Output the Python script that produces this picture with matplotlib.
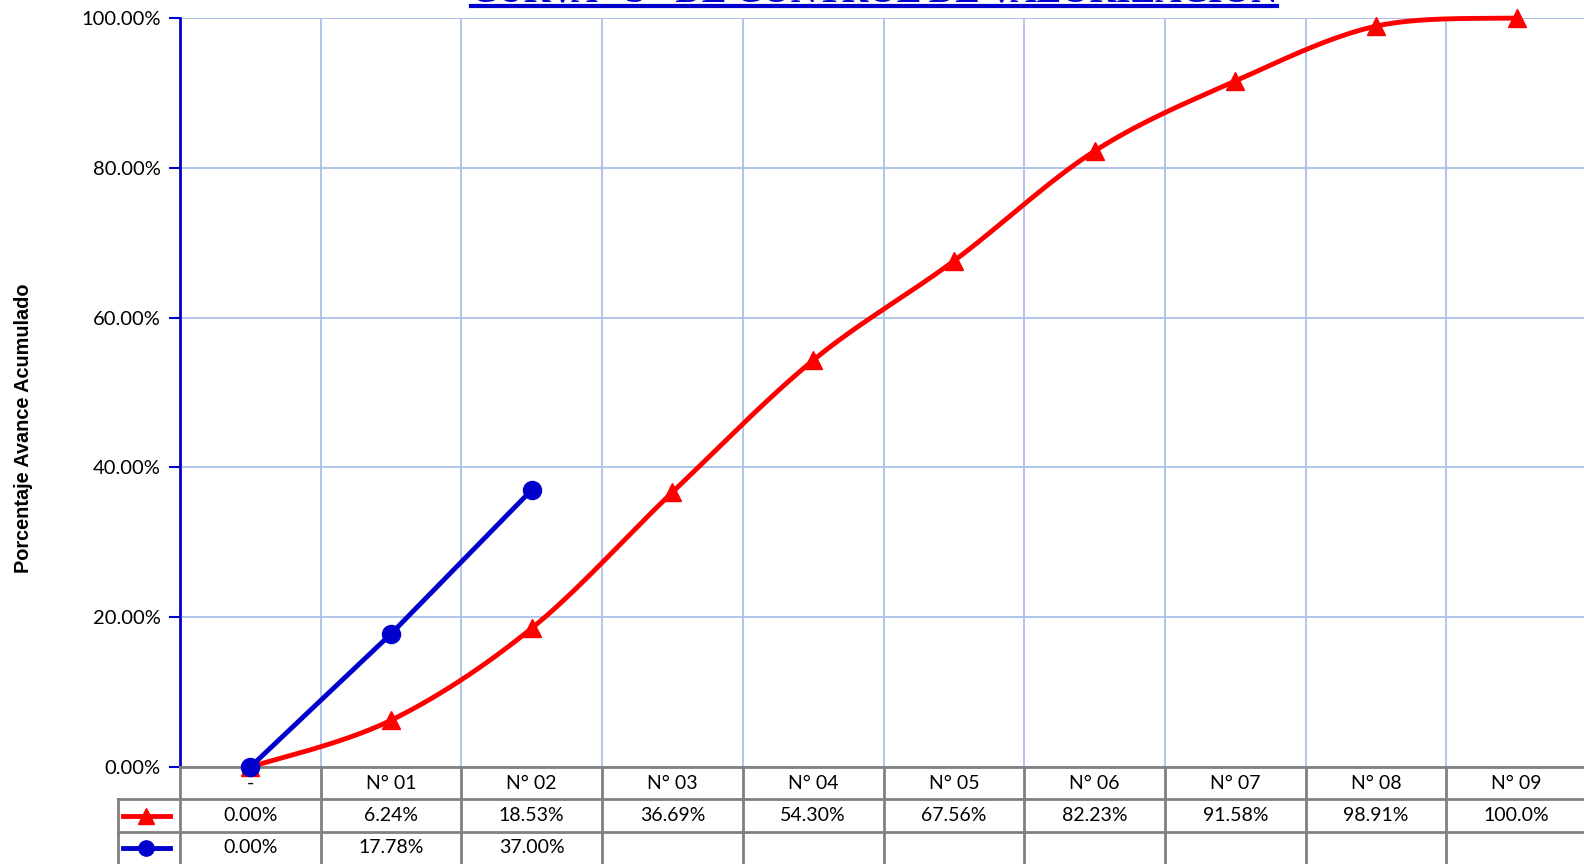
import matplotlib
matplotlib.use("Agg")
import matplotlib.pyplot as plt
import numpy as np

# datos de la curva S
periodos = ["-", "N° 01", "N° 02", "N° 03", "N° 04", "N° 05", "N° 06", "N° 07", "N° 08", "N° 09"]
programado = [0.00, 6.24, 18.53, 36.69, 54.30, 67.56, 82.23, 91.58, 98.91, 100.0]
ejecutado = [0.00, 17.78, 37.00]
yticks = [0, 20, 40, 60, 80, 100]
titulo = 'CURVA "S" DE CONTROL DE VALORIZACION'

W, H = 1584, 864
RED = "#ff0000"
BLUE = "#0000cc"
GRID = "#a9c0e8"
TGRAY = "#808080"
plt.rcParams["font.family"] = ["Lato", "DejaVu Sans"]


def suavizar(x, y, n=30):
    # curva suavizada tipo Excel (Catmull-Rom / Bezier)
    x = np.asarray(x, float)
    y = np.asarray(y, float)
    px = np.concatenate([[x[0]], x, [x[-1]]])
    py = np.concatenate([[y[0]], y, [y[-1]]])
    xs, ys = [], []
    t = np.linspace(0, 1, n)
    for i in range(1, len(px) - 2):
        p0 = np.array([px[i], py[i]])
        p3 = np.array([px[i + 1], py[i + 1]])
        c1 = p0 + (np.array([px[i + 1], py[i + 1]]) - np.array([px[i - 1], py[i - 1]])) / 6
        c2 = p3 - (np.array([px[i + 2], py[i + 2]]) - np.array([px[i], py[i]])) / 6
        b = ((1 - t) ** 3)[:, None] * p0 + (3 * (1 - t) ** 2 * t)[:, None] * c1 \
            + (3 * (1 - t) * t ** 2)[:, None] * c2 + (t ** 3)[:, None] * p3
        xs.extend(b[:, 0])
        ys.extend(b[:, 1])
    return np.array(xs), np.array(ys)


fig = plt.figure(figsize=(W / 100, H / 100), dpi=100)

left, right, top, bottom = 180, 1587, 18, 767
colw = (right - left) / len(periodos)
ax = fig.add_axes([left / W, 1 - bottom / H, (right - left) / W, (bottom - top) / H])
n = len(periodos)
ax.set_xlim(-0.5, n - 0.5)
ax.set_ylim(0, 100)

ax.set_xticks(np.arange(-0.5, n, 1.0))
ax.set_xticklabels([])
ax.tick_params(axis="x", length=0)
ax.set_yticks(yticks)
ax.set_yticklabels([f"{v:.2f}%" for v in yticks], fontsize=14.5)
ax.tick_params(axis="y", length=8, width=1.5, color=BLUE, pad=6)
ax.grid(True, color=GRID, lw=1.3)
ax.set_axisbelow(True)
for s in ["top", "right"]:
    ax.spines[s].set_visible(False)
ax.spines["left"].set_color(BLUE)
ax.spines["left"].set_linewidth(2)
ax.spines["bottom"].set_color(TGRAY)
ax.spines["bottom"].set_linewidth(2)
ax.axhline(100, color=GRID, lw=1.3, zorder=0)

xi = np.arange(n)
sx, sy = suavizar(xi, programado)
ax.plot(sx, sy, color=RED, lw=3.5, clip_on=False, zorder=3)
ax.plot(xi, programado, ls="none", marker="^", ms=13, color=RED, clip_on=False, zorder=4)
xe = np.arange(len(ejecutado))
ax.plot(xe, ejecutado, color=BLUE, lw=3.5, marker="o", ms=13, clip_on=False, zorder=5)

ax.set_ylabel("Porcentaje Avance Acumulado", fontsize=14.3, fontweight="bold",
              family="Liberation Sans")
ax.yaxis.set_label_coords(-(left - 33) / (right - left), 0.5 - 35.5 / (bottom - top))

# tabla de datos
legw = 62
tab = fig.add_axes([(left - legw) / W, 0, (right - left + legw) / W, (H - bottom) / H])
tab.set_xlim(-0.5 - legw / colw, n - 0.5)
tab.set_ylim(3, 0)
tab.axis("off")
lx0 = -0.5 - legw / colw
for k in range(n + 1):
    tab.plot([k - 0.5, k - 0.5], [0, 3], color=TGRAY, lw=2, clip_on=False)
tab.plot([lx0, lx0], [1, 3], color=TGRAY, lw=2, clip_on=False)
for r in [1, 2]:
    tab.plot([lx0, n - 0.5], [r, r], color=TGRAY, lw=2, clip_on=False)

for i, p in enumerate(periodos):
    tab.text(i, 0.5, p, ha="center", va="center", fontsize=14)
for i, v in enumerate(programado):
    lab = f"{v:.2f}%" if v < 100 else f"{v:.1f}%"
    tab.text(i, 1.5, lab, ha="center", va="center", fontsize=14)
for i, v in enumerate(ejecutado):
    tab.text(i, 2.5, f"{v:.2f}%", ha="center", va="center", fontsize=14)

gx = [lx0 + 5 / colw, -0.5 - 10 / colw]
tab.plot(gx, [1.5, 1.5], color=RED, lw=3.5, clip_on=False)
tab.plot([np.mean(gx)], [1.5], marker="^", ms=11, color=RED, clip_on=False)
tab.plot(gx, [2.5, 2.5], color=BLUE, lw=3.5, clip_on=False)
tab.plot([np.mean(gx)], [2.5], marker="o", ms=11, color=BLUE, clip_on=False)

# titulo (cortado en la parte superior, como en el original)
t = fig.text((471 + 1277) / 2 / W, 1 - 2 / H, titulo, ha="center", va="baseline",
             fontsize=22, fontweight="bold", color=BLUE, family="Liberation Serif")
fig.canvas.draw()
bb = t.get_window_extent()
t.set_fontsize(22 * (1277 - 471) / bb.width)
fig.lines.append(plt.Line2D([471 / W, 1277 / W], [1 - 6.3 / H, 1 - 6.3 / H], transform=fig.transFigure,
                            color=BLUE, lw=3))

fig.savefig("out.png", dpi=100)
